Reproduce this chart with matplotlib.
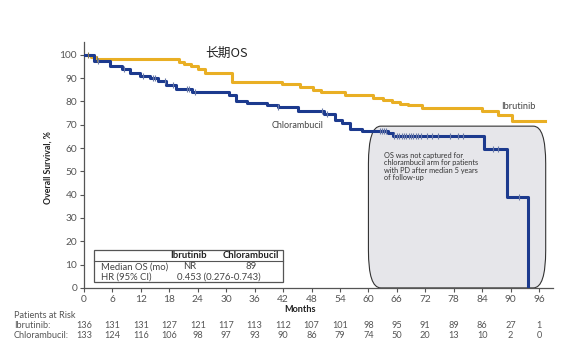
import numpy as np
import matplotlib
matplotlib.use("Agg")
import matplotlib.pyplot as plt
from matplotlib.patches import FancyBboxPatch

plt.rcParams['font.family'] = ['Lato', 'DejaVu Sans', 'Noto Sans CJK SC']

# Kaplan-Meier steps (month, survival % after the step)
ibr_t = [0, 1.5, 2.5, 20, 21, 22.5, 24, 25.5, 31.2, 41.7, 45.6, 48.3, 50, 55, 61, 63, 65, 66.7, 68.4, 71.2, 84, 87.3, 90.2, 97.3]
ibr_s = [100, 99, 98, 97, 96, 95, 94, 92, 88.4, 87.5, 86.3, 85, 84, 82.7, 81.3, 80.5, 79.9, 79, 78.4, 77, 76, 74, 71.5, 71.5]

chl_t = [0, 2, 5.5, 8, 9.7, 11.8, 13.9, 15.5, 17.2, 19.4, 22.7, 30.5, 32, 34.3, 38.5, 40.9, 45.2, 50.6, 53, 54.4, 56.1, 58.6, 64.1, 65.2, 84.4, 89.3, 93.6]
chl_s = [100, 97.3, 95.3, 93.9, 92.4, 91, 89.9, 88.7, 87, 85.3, 84, 82.7, 80, 79.4, 78.4, 77.7, 76, 74.4, 72, 70.6, 68, 67.3, 66.6, 65.2, 59.4, 39.1, 0]

# censor marks
ibr_cens = [0.8, 2.7]
chl_cens = [3, 8.5, 12.5, 14.5, 15, 17, 18.8, 21.7, 22.2, 23.5, 41, 50.1, 51.2,
            62.4, 62.8, 63.3, 63.7, 65.5, 66, 66.5, 67, 67.5, 68, 68.5, 69, 69.5,
            70, 70.5, 71, 72.4, 73.4, 74.7, 77.2, 79, 80, 86.3, 87.3, 91.8]

months = list(range(0, 97, 6))
ibr_risk = [136, 131, 131, 127, 121, 117, 113, 112, 107, 101, 98, 95, 91, 89, 86, 27, 1]
chl_risk = [133, 124, 116, 106, 98, 97, 93, 90, 86, 79, 74, 50, 20, 13, 10, 2, 0]

gold = '#E9AF24'
navy = '#1C3A8E'
grey = '#555555'


def at(t, s, x):
    i = np.searchsorted(t, x, side='right') - 1
    return np.array(s)[i]


fig = plt.figure(figsize=(5.64, 3.59), dpi=100)
ax = fig.add_axes([0.149, 0.198, 0.832, 0.685])

# grey note box
box = FancyBboxPatch((60, 0), 37.4, 69.4, boxstyle="round,pad=0,rounding_size=2.6",
                     mutation_aspect=6.2, facecolor='#E6E6EA', edgecolor='#333333',
                     linewidth=0.8, zorder=1)
ax.add_patch(box)

ax.step(ibr_t, ibr_s, where='post', color=gold, lw=2.2, zorder=3)
ax.step(chl_t, chl_s, where='post', color=navy, lw=2.2, zorder=4)
ax.plot(ibr_cens, at(ibr_t, ibr_s, ibr_cens), ls='none', marker='|', ms=5, mew=0.8, color='#8a7a50', zorder=5)
ax.plot(chl_cens, at(chl_t, chl_s, chl_cens), ls='none', marker='|', ms=5, mew=0.8, color='#6a7aa8', zorder=5)

ax.set_xlim(0, 99)
ax.set_ylim(0, 105.5)
ax.set_xticks(months)
ax.set_yticks(range(0, 101, 10))
ax.tick_params(labelsize=7.3, colors=grey, length=3, width=0.8, pad=2)
for s in ['top', 'right']:
    ax.spines[s].set_visible(False)
for s in ['left', 'bottom']:
    ax.spines[s].set_color(grey)
    ax.spines[s].set_linewidth(0.9)
ax.set_ylabel('Overall Survival, %', fontsize=6.3, fontweight='bold', color='#222222')
ax.yaxis.set_label_coords(-0.066, 0.49)

ax.text(45.6, -9.3, 'Months', fontsize=6.6, fontweight='bold', ha='center', va='center', color='#222222')
ax.text(30, 100.6, '长期OS', fontsize=9.2, ha='center', va='center', color='#222222',
        family=['Noto Sans CJK SC', 'DejaVu Sans'])
ax.text(88, 77.8, 'Ibrutinib', fontsize=6.7, va='center', color='#444444')
ax.text(39.6, 69.5, 'Chlorambucil', fontsize=6.5, va='center', color='#444444')
ax.text(63.3, 58.5, 'OS was not captured for\nchlorambucil arm for patients\nwith PD after median 5 years\nof follow-up',
        fontsize=5.3, va='top', ha='left', color='#333333', linespacing=1.1, zorder=6)

# summary table
tbl = plt.Rectangle((2.1, 2.4), 39.8, 13.9, facecolor='white', edgecolor='#555555', lw=0.9, zorder=6)
ax.add_patch(tbl)
ax.plot([2.1, 41.9], [11.7, 11.7], color='#555555', lw=0.8, zorder=7)
ax.text(22, 14.1, 'Ibrutinib', fontsize=6.8, fontweight='bold', ha='center', va='center', color='#222222', zorder=7)
ax.text(35.2, 14.1, 'Chlorambucil', fontsize=6.8, fontweight='bold', ha='center', va='center', color='#222222', zorder=7)
ax.text(3.5, 9.1, 'Median OS (mo)', fontsize=6.8, ha='left', va='center', color='#444444', zorder=7)
ax.text(22.2, 9.1, 'NR', fontsize=6.8, ha='center', va='center', color='#444444', zorder=7)
ax.text(35.2, 9.1, '89', fontsize=6.8, ha='center', va='center', color='#444444', zorder=7)
ax.text(3.5, 4.8, 'HR (95% CI)', fontsize=6.8, ha='left', va='center', color='#444444', zorder=7)
ax.text(28.5, 4.8, '0.453 (0.276-0.743)', fontsize=6.8, ha='center', va='center', color='#444444', zorder=7)

# patients at risk
tr = ax.get_xaxis_transform()
fig.text(0.025, 1 - 315 / 359, 'Patients at Risk', fontsize=6.6, va='center', color=grey)
fig.text(0.025, 1 - 326 / 359, 'Ibrutinib:', fontsize=6.6, va='center', color=grey)
fig.text(0.025, 1 - 335.5 / 359, 'Chlorambucil:', fontsize=6.6, va='center', color=grey)
for m, a, b in zip(months, ibr_risk, chl_risk):
    ax.text(m, -0.1545, str(a), transform=tr, fontsize=6.6, ha='center', va='center', color=grey, clip_on=False)
    ax.text(m, -0.192, str(b), transform=tr, fontsize=6.6, ha='center', va='center', color=grey, clip_on=False)

fig.savefig('out.png', dpi=100)
